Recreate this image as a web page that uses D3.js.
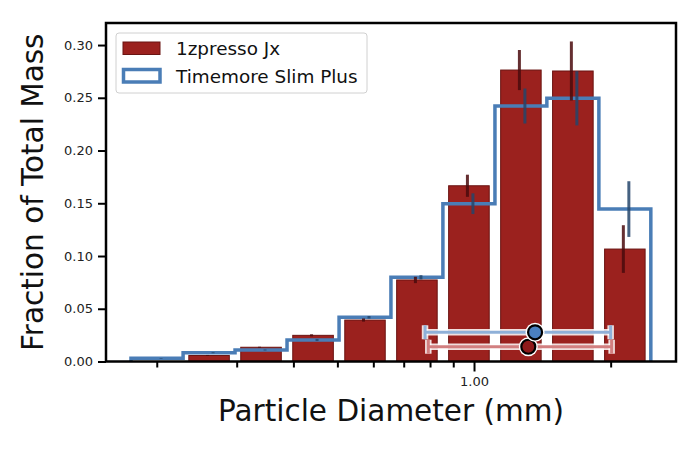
<!DOCTYPE html>
<html><head><meta charset="utf-8">
<script src="https://cdn.jsdelivr.net/npm/d3@7"></script>
<style>
body{margin:0;background:#fff;}
svg{display:block;font-family:"DejaVu Sans",sans-serif;}
</style></head>
<body><svg id="c" width="700" height="452"></svg>
<script>
// ---- data ----
const binEdges = [0.1755, 0.2286, 0.2975, 0.3873, 0.5043, 0.6561, 0.854, 1.112, 1.447, 1.884, 2.452];
const jxValues = [0, 0.0057, 0.0135, 0.0248, 0.0393, 0.0773, 0.1666, 0.2763, 0.2754, 0.1066];
const jxErrors = [0, 0.0005, 0.0005, 0.001, 0.0015, 0.003, 0.0105, 0.019, 0.028, 0.0226];
const timemoreValues = [0.003, 0.0083, 0.0109, 0.0204, 0.0419, 0.0798, 0.1496, 0.2422, 0.2495, 0.1445];
const timemoreErrors = [0.0003, 0.0005, 0.0005, 0.001, 0.0012, 0.002, 0.0098, 0.0166, 0.0257, 0.0264];
// mean diameter markers: [mean, low, high, height]
const jxMean = [1.317, 0.793, 2.01, 0.014];
const timemoreMean = [1.363, 0.780, 2.0, 0.0277];
const seriesNames = ["1zpresso Jx", "Timemore Slim Plus"];
const yTicks = [0, 0.05, 0.10, 0.15, 0.20, 0.25, 0.30];
const xMajorTicks = [1.0];
const xMinorTicks = [0.2, 0.3, 0.4, 0.5, 0.6, 0.7, 0.8, 0.9, 2.0];

// ---- layout ----
const L = 106, R = 676, T = 23, B = 361.5;
const svg = d3.select("#c");
const x = d3.scaleLog().domain([0.1546, 2.786]).range([L, R]);
const y = d3.scaleLinear().domain([0, 0.3209]).range([B, T]);

const redFill = "#9b211e", redEdge = "#6a1412";
const blue = "#4a7db6";

// red bars
const bars = jxValues.map((v, i) => {
  const l0 = Math.log10(binEdges[i]), l1 = Math.log10(binEdges[i + 1]);
  const c = (l0 + l1) / 2, h = (l1 - l0) * 0.39;
  return {v, e: jxErrors[i], a: Math.pow(10, c - h), b: Math.pow(10, c + h), c: Math.pow(10, c)};
});
svg.append("g").selectAll("rect").data(bars.filter(d => d.v > 0)).join("rect")
  .attr("x", d => x(d.a)).attr("width", d => x(d.b) - x(d.a))
  .attr("y", d => y(d.v)).attr("height", d => y(0) - y(d.v))
  .attr("fill", redFill).attr("stroke", redEdge).attr("stroke-width", 1);

// step line
const pts = [[binEdges[0], 0]];
timemoreValues.forEach((v, i) => { pts.push([binEdges[i], v]); pts.push([binEdges[i + 1], v]); });
pts.push([binEdges[binEdges.length - 1], 0]);
svg.append("path").datum(pts)
  .attr("d", d3.line().x(d => x(d[0])).y(d => y(d[1])))
  .attr("fill", "none").attr("stroke", blue).attr("stroke-width", 3.5)
  .attr("stroke-linejoin", "miter");

// vertical error bars
svg.append("g").selectAll("line").data(bars.filter(d => d.v > 0)).join("line")
  .attr("x1", d => x(d.c) - 1.5).attr("x2", d => x(d.c) - 1.5)
  .attr("y1", d => y(d.v - d.e)).attr("y2", d => y(d.v + d.e))
  .attr("stroke", "#4a0b0d").attr("stroke-opacity", 0.85).attr("stroke-width", 3);
const tErr = timemoreValues.map((v, i) => ({v, e: timemoreErrors[i],
  c: Math.sqrt(binEdges[i] * binEdges[i + 1])}));
svg.append("g").selectAll("line").data(tErr).join("line")
  .attr("x1", d => x(d.c) + 4).attr("x2", d => x(d.c) + 4)
  .attr("y1", d => y(d.v - d.e)).attr("y2", d => y(d.v + d.e))
  .attr("stroke", "#24456b").attr("stroke-opacity", 0.85).attr("stroke-width", 3);

// mean markers with horizontal error bars
function meanMarker(m, lineCol, dotCol) {
  const g = svg.append("g");
  const yy = y(m[3]), x0 = x(m[1]), x1 = x(m[2]), cx = x(m[0]);
  const segs = [[x0, yy, x1, yy], [x0, yy - 7, x0, yy + 7], [x1, yy - 7, x1, yy + 7]];
  segs.forEach(s => g.append("line").attr("x1", s[0]).attr("y1", s[1]).attr("x2", s[2]).attr("y2", s[3])
    .attr("stroke", "#fff").attr("stroke-width", 6.5).attr("stroke-opacity", 0.85));
  segs.forEach(s => g.append("line").attr("x1", s[0]).attr("y1", s[1]).attr("x2", s[2]).attr("y2", s[3])
    .attr("stroke", lineCol).attr("stroke-width", 3));
  g.append("circle").attr("cx", cx).attr("cy", yy).attr("r", 9.5).attr("fill", "#fff");
  g.append("circle").attr("cx", cx).attr("cy", yy).attr("r", 7).attr("fill", dotCol)
    .attr("stroke", "#000").attr("stroke-width", 2.2);
}
meanMarker(jxMean, "#d27f80", "#8e1a1a");
meanMarker(timemoreMean, "#8fb0d8", "#4a80c0");

// axes
const yAxis = svg.append("g").attr("transform", `translate(${L},0)`)
  .call(d3.axisLeft(y).tickValues(yTicks).tickFormat(d3.format(".2f")).tickSize(8).tickPadding(5));
const xMinor = svg.append("g").attr("transform", `translate(0,${B})`)
  .call(d3.axisBottom(x).tickValues(xMinorTicks).tickFormat("").tickSize(6));
const xMajor = svg.append("g").attr("transform", `translate(0,${B})`)
  .call(d3.axisBottom(x).tickValues(xMajorTicks).tickFormat(d3.format(".2f")).tickSize(10).tickPadding(5));
[yAxis, xMinor, xMajor].forEach(g => {
  g.select(".domain").remove();
  g.selectAll(".tick line").attr("stroke", "#000").attr("stroke-width", 2);
  g.selectAll(".tick text").attr("font-size", 13).attr("fill", "#222").attr("font-family", "DejaVu Sans");
});
// frame
svg.append("rect").attr("x", L).attr("y", T).attr("width", R - L).attr("height", B - T)
  .attr("fill", "none").attr("stroke", "#000").attr("stroke-width", 2.5);

// labels
svg.append("text").attr("x", (L + R) / 2).attr("y", 421).attr("text-anchor", "middle")
  .attr("font-size", 29.5).attr("fill", "#111").text("Particle Diameter (mm)");
svg.append("text").attr("transform", `translate(43,${(T + B) / 2}) rotate(-90)`).attr("text-anchor", "middle")
  .attr("font-size", 29.5).attr("fill", "#111").text("Fraction of Total Mass");

// legend
const lg = svg.append("g");
lg.append("rect").attr("x", 116).attr("y", 33).attr("width", 251).attr("height", 60).attr("rx", 3)
  .attr("fill", "#fff").attr("fill-opacity", 0.85).attr("stroke", "#d0d0d0").attr("stroke-width", 1);
lg.append("rect").attr("x", 123).attr("y", 42).attr("width", 37).attr("height", 12.5)
  .attr("fill", redFill).attr("stroke", redEdge).attr("stroke-width", 1);
lg.append("rect").attr("x", 123.5).attr("y", 69.5).attr("width", 36.5).attr("height", 12.5)
  .attr("fill", "#fff").attr("stroke", blue).attr("stroke-width", 3.5);
lg.selectAll("text").data(seriesNames).join("text")
  .attr("x", 176).attr("y", (d, i) => 55 + i * 27.7).attr("font-size", 18.4).attr("fill", "#111").text(d => d);
</script></body></html>
